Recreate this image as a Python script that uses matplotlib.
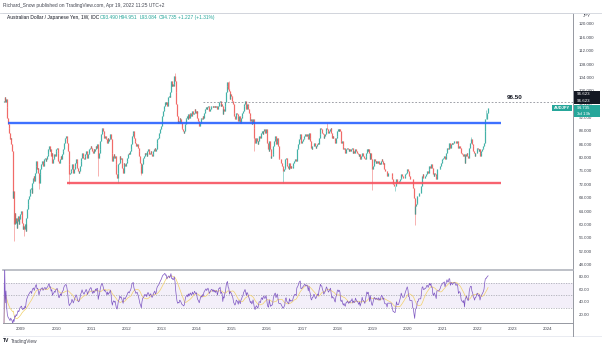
import numpy as np
import pandas as pd
import matplotlib
matplotlib.use("Agg")
import matplotlib.pyplot as plt
import matplotlib.dates as mdates
from matplotlib.patches import Rectangle
from matplotlib.lines import Line2D

# ---------------- data (weekly closes, AUD/JPY) ----------------
first_open = 96.5
closes_2008 = [97.0, 98.0, 96.5, 97.5, 95.0, 92.0, 90.0, 89.0, 87.5, 85.5, 86.0, 84.0, 82.0,
               68.0, 70.0, 60.0, 63.5, 60.5, 62.0, 59.0, 61.0, 62.5, 60.0, 61.5, 63.0, 63.5]
closes_2009 = [64.0, 60.5, 58.5, 59.5, 58.5, 60.0, 58.0, 62.0, 64.5, 66.0, 67.5, 68.5, 69.5,
               70.5, 71.0, 69.5, 72.5, 74.0, 74.5, 73.0, 75.5, 77.5, 79.0, 76.5, 77.0, 75.5,
               72.5, 75.0, 76.5, 78.0, 78.5, 79.0, 77.5, 78.5, 79.5, 80.0, 79.0, 79.5, 80.5,
               81.0, 82.5, 83.5, 82.0, 82.5, 80.5, 81.5, 78.5, 79.5, 80.0, 81.0, 80.5, 82.0]
closes_2010 = [82.5, 83.0, 81.5, 79.0, 78.5, 79.5, 80.5, 79.5, 81.0, 82.0, 82.5, 84.5, 85.5,
               86.0, 86.5, 86.0, 84.5, 82.0, 78.0, 75.0, 75.5, 76.0, 76.5, 78.0, 77.0, 75.5,
               76.5, 77.5, 78.5, 79.5, 79.0, 77.0, 76.0, 75.5, 76.0, 77.5, 79.0, 80.0, 81.5,
               80.5, 80.0, 79.5, 80.5, 81.0, 82.0, 81.5, 80.0, 81.0, 81.5, 82.5, 83.0, 83.5]
closes_2011 = [83.0, 82.0, 81.5, 82.5, 82.0, 82.5, 83.5, 83.0, 84.0, 84.0, 80.0, 81.5, 82.5,
               85.0, 87.0, 88.5, 89.0, 88.0, 87.0, 86.0, 86.5, 86.0, 85.5, 84.5, 86.0, 85.0,
               85.5, 86.0, 87.0, 85.5, 81.5, 79.0, 80.5, 81.0, 80.0, 80.5, 78.0, 75.0, 74.0,
               75.5, 78.0, 78.5, 80.5, 79.5, 80.0, 78.5, 77.0, 75.5, 78.5, 78.0, 77.5, 78.5]
closes_2012 = [79.0, 80.0, 81.0, 81.5, 81.0, 82.0, 82.5, 84.0, 86.5, 87.5, 88.0, 86.0, 85.0,
               84.5, 83.5, 84.0, 84.0, 83.0, 82.0, 80.5, 78.5, 77.5, 75.5, 78.0, 79.5, 80.0,
               80.5, 81.5, 81.0, 81.5, 80.5, 82.0, 82.5, 82.0, 81.0, 81.5, 82.0, 81.0, 80.5,
               81.0, 82.0, 82.5, 83.0, 82.0, 82.5, 84.5, 85.5, 86.0, 86.5, 87.5, 88.5, 89.5, 90.5]
closes_2013 = [92.5, 94.0, 94.5, 95.5, 96.5, 96.0, 96.5, 95.5, 97.0, 98.0, 98.5, 98.0, 99.5,
               103.0, 101.5, 102.0, 101.5, 102.0, 104.5, 103.0, 99.5, 96.0, 92.5, 90.5, 91.0,
               90.5, 92.0, 91.5, 90.5, 89.0, 88.5, 88.0, 87.5, 88.0, 90.0, 91.5, 92.0, 92.5,
               91.5, 93.0, 92.0, 93.0, 93.5, 92.5, 93.0, 94.0, 93.0, 93.5, 94.5, 94.0, 93.5, 94.0]
closes_2014 = [92.0, 91.0, 90.5, 89.5, 90.5, 91.5, 92.0, 91.5, 92.5, 92.0, 93.5, 94.0, 94.5,
               95.0, 94.5, 95.0, 95.5, 95.0, 94.0, 94.5, 95.0, 95.5, 95.5, 95.0, 95.5, 95.0,
               95.5, 95.0, 95.5, 95.5, 94.5, 95.5, 96.5, 96.5, 97.0, 95.5, 96.0, 95.5, 93.0,
               94.5, 94.0, 95.5, 96.5, 99.5, 101.5, 102.5, 100.5, 100.0, 97.5, 99.0, 98.5, 98.0]
closes_2015 = [97.0, 96.0, 93.5, 92.5, 91.5, 92.0, 93.5, 93.0, 92.5, 91.0, 92.5, 91.5, 90.5,
               92.0, 92.5, 93.5, 94.0, 95.5, 96.0, 97.0, 96.0, 94.5, 96.0, 95.5, 94.5, 93.5,
               92.5, 91.0, 91.5, 90.0, 90.5, 91.5, 89.0, 86.0, 84.5, 85.5, 86.0, 85.0, 84.0,
               85.0, 86.5, 86.5, 86.0, 87.5, 88.0, 87.0, 88.0, 88.5, 87.5, 87.5, 88.5, 87.5]
closes_2016 = [84.5, 82.5, 82.0, 85.0, 82.5, 80.0, 80.5, 80.5, 81.0, 83.5, 85.0, 86.0, 86.5,
               84.0, 85.0, 86.0, 83.5, 80.0, 79.5, 79.5, 79.5, 78.5, 77.5, 76.0, 76.0, 76.5,
               77.0, 79.5, 80.0, 78.0, 77.5, 77.0, 76.5, 78.5, 77.0, 77.5, 77.0, 77.0, 77.5,
               78.5, 79.0, 79.5, 79.5, 79.0, 82.5, 83.0, 84.0, 85.5, 86.5, 87.0, 84.5, 84.5]
closes_2017 = [85.0, 85.5, 86.0, 86.5, 87.0, 86.5, 86.5, 87.0, 86.5, 85.5, 87.5, 86.0, 85.0,
               83.0, 82.5, 83.5, 83.5, 84.5, 84.5, 83.5, 83.0, 83.5, 84.0, 84.5, 84.0, 86.0,
               87.0, 89.0, 88.5, 88.5, 87.5, 87.0, 86.0, 86.5, 87.0, 88.0, 89.0, 88.5, 88.0,
               87.5, 88.0, 88.5, 89.0, 87.5, 86.0, 86.5, 86.0, 86.0, 85.0, 84.5, 86.0, 86.5]
closes_2018 = [88.0, 88.5, 88.0, 88.5, 88.0, 85.0, 84.5, 85.0, 83.5, 82.5, 83.0, 82.0, 81.5,
               82.5, 82.5, 83.0, 82.5, 82.0, 82.5, 82.0, 82.5, 82.5, 83.0, 81.5, 82.0, 81.5,
               81.5, 82.5, 82.0, 81.5, 81.5, 81.0, 80.5, 81.0, 79.5, 80.0, 80.5, 81.5, 80.5,
               80.5, 80.0, 79.5, 80.5, 81.5, 82.5, 82.0, 82.5, 81.5, 79.5, 81.5, 79.5, 77.5, 76.5]
closes_2019 = [77.5, 78.5, 79.5, 79.0, 78.5, 79.0, 78.5, 78.5, 79.0, 78.0, 78.5, 78.0, 79.0,
               79.5, 79.0, 78.0, 78.5, 76.5, 76.0, 76.0, 76.0, 74.5, 75.5, 75.5, 75.5, 75.5,
               75.5, 75.5, 74.5, 73.5, 72.0, 72.0, 71.5, 71.5, 72.5, 73.5, 72.5, 72.5, 72.5,
               73.0, 73.5, 74.0, 75.0, 74.5, 74.0, 74.0, 74.0, 74.5, 75.0, 75.5, 76.0, 76.5]
closes_2020 = [76.0, 74.5, 74.5, 73.5, 73.5, 73.5, 73.5, 71.5, 71.0, 68.0, 63.0, 65.5, 66.0,
               66.5, 68.5, 68.5, 69.5, 69.5, 69.5, 69.5, 71.5, 74.5, 75.0, 74.0, 74.0, 74.5,
               74.5, 75.0, 76.0, 76.0, 75.5, 76.5, 77.5, 77.0, 78.0, 77.0, 77.0, 75.0, 74.5,
               75.5, 75.0, 74.5, 73.5, 76.5, 76.5, 76.5, 76.5, 77.0, 77.5, 78.5, 79.0, 79.5]
closes_2021 = [80.0, 80.0, 80.5, 79.5, 80.5, 81.5, 83.0, 82.5, 82.5, 84.5, 84.5, 83.0, 84.0,
               84.5, 84.0, 84.5, 85.0, 85.0, 85.0, 84.5, 84.5, 85.0, 84.5, 83.0, 83.5, 83.5,
               83.0, 81.5, 81.0, 81.0, 80.5, 81.0, 78.5, 80.5, 81.0, 81.5, 80.5, 80.0, 80.0,
               83.0, 84.5, 85.5, 85.5, 84.0, 83.5, 82.0, 81.5, 80.5, 81.5, 81.5, 82.5, 83.0]
closes_2022 = [82.5, 82.0, 82.5, 80.5, 81.5, 82.0, 82.5, 83.0, 83.5, 84.5, 88.0, 91.5, 91.5,
               93.0, 93.49, 94.735]

wick_dates = ["2008-10-20", "2009-02-02", "2009-07-06", "2010-05-17", "2011-03-14",
              "2011-10-03", "2012-05-28", "2013-05-20", "2014-12-01", "2015-08-24",
              "2016-06-20", "2017-09-18", "2018-12-31", "2019-08-26", "2020-03-16",
              "2021-10-18", "2022-03-28", "2022-04-18"]
wick_values = [55.0, 56.5, 70.5, 72.0, 74.5, 72.3, 74.8, 105.4, 102.8, 82.0,
               72.4, 90.3, 70.3, 70.0, 59.9, 86.3, 94.3, 94.951]

level_values = [90.45, 72.3]
level_starts = ["2008-08-18", "2010-04-20"]
level_end = "2022-08-29"
level_colors = ["#2962FF", "#F7525F"]

target_value = 96.623
target_start = "2014-03-07"
target_label = "96.50"

year_ticks = list(range(2009, 2025))
price_ticks = list(range(48, 121, 4))
rsi_ticks = [20, 40, 60, 80]

# ---------------- build series ----------------
closes = (closes_2008 + closes_2009 + closes_2010 + closes_2011 + closes_2012 + closes_2013 +
          closes_2014 + closes_2015 + closes_2016 + closes_2017 + closes_2018 + closes_2019 +
          closes_2020 + closes_2021 + closes_2022)
closes = np.array(closes, dtype=float)
dates = pd.date_range(end="2022-04-18", periods=len(closes), freq="W-MON")
opens = np.concatenate([[first_open], closes[:-1]])
highs = np.maximum(opens, closes)
lows = np.minimum(opens, closes)
idx = dates.get_indexer(pd.to_datetime(wick_dates), method="nearest")
for i, v in zip(idx, wick_values):
    if v > highs[i]:
        highs[i] = v
    else:
        lows[i] = min(lows[i], v)

# RSI 14 (Wilder) + RSI-based MA 14
s = pd.Series(closes)
delta = s.diff().fillna(0)
gain = delta.clip(lower=0).ewm(alpha=1 / 14, adjust=False).mean()
loss = (-delta.clip(upper=0)).ewm(alpha=1 / 14, adjust=False).mean()
rsi = 100 - 100 / (1 + gain / loss.replace(0, 1e-9))
rsi_ma = rsi.rolling(14, min_periods=1).mean()

# ---------------- figure ----------------
W, H = 602, 347
fig = plt.figure(figsize=(W / 100, H / 100), dpi=100)
fig.patch.set_facecolor("white")
plt.rcParams["font.family"] = ["Liberation Sans", "DejaVu Sans"]


def fx(x):
    return x / W


def fy(y):
    return 1 - y / H


def ft(x, y, s, **kw):
    kw.setdefault("fontsize", 3.4)
    kw.setdefault("va", "center")
    return fig.text(fx(x), fy(y), s, **kw)


L, R = 3, 573
ax = fig.add_axes([fx(L), fy(270), (R - L) / W, (270 - 13) / H])
axr = fig.add_axes([fx(L), fy(323), (R - L) / W, (323 - 270) / H], sharex=ax)

xmin = mdates.date2num(pd.Timestamp("2008-06-27"))
xmax = mdates.date2num(pd.Timestamp("2024-09-17"))
ax.set_xlim(xmin, xmax)
ax.set_ylim(46.35, 123.29)

x = mdates.date2num(dates)
up = closes >= opens
col = np.where(up, "#26A69A", "#EF5350")
ax.vlines(x, lows, highs, colors=col, lw=0.45, alpha=0.7, zorder=2)
ax.vlines(x, np.minimum(opens, closes), np.maximum(opens, closes), colors=col, lw=0.9,
          alpha=0.75, zorder=3)

for v, st, c in zip(level_values, level_starts, level_colors):
    ax.hlines(v, mdates.date2num(pd.Timestamp(st)), mdates.date2num(pd.Timestamp(level_end)),
              colors=c, lw=1.7, alpha=0.9, zorder=5)

ax.hlines(target_value, mdates.date2num(pd.Timestamp(target_start)), xmax, colors="#787B86",
          lw=0.5, linestyles=(0, (2.5, 2.5)), zorder=4)
ax.text(mdates.date2num(pd.Timestamp("2023-01-20")), 97.9, target_label, fontsize=4.5,
        fontweight="bold", color="#131722", ha="center", va="center", zorder=6)

ax.yaxis.tick_right()
ax.set_yticks(price_ticks)
ax.set_yticklabels([f"{v:.3f}" for v in price_ticks])
ax.tick_params(axis="y", length=0, pad=4, labelsize=3.2, labelcolor="#434651")
ax.tick_params(axis="x", length=0, labelbottom=False)
for yl in ax.get_yticklabels():
    yl.set_ha("left")

for a in (ax, axr):
    for sp in a.spines.values():
        sp.set_color("#D1D4DC")
        sp.set_linewidth(0.6)
    a.spines["right"].set_color("#9598A1")
    a.spines["right"].set_linewidth(0.7)
    a.spines["left"].set_visible(False)
ax.spines["top"].set_color("#D1D4DC")
axr.spines["top"].set_color("#B2B5BE")
axr.spines["top"].set_linewidth(1.2)
axr.spines["bottom"].set_color("#9598A1")
axr.spines["bottom"].set_linewidth(0.7)

# RSI pane
axr.set_ylim(6.2, 90.6)
axr.axhspan(30, 70, color="#7E57C2", alpha=0.09, lw=0, zorder=1)
for lv in (70, 50, 30):
    axr.axhline(lv, color="#9598A1", lw=0.45, ls=(0, (2, 2)), zorder=2)
axr.plot(x, rsi_ma.values, color="#F2D16B", lw=0.5, zorder=3)
axr.plot(x, rsi.values, color="#7E57C2", lw=0.5, zorder=4)
axr.yaxis.tick_right()
axr.set_yticks(rsi_ticks)
axr.set_yticklabels([f"{v:.2f}" for v in rsi_ticks])
axr.tick_params(axis="y", length=0, pad=4, labelsize=3.2, labelcolor="#434651")
for yl in axr.get_yticklabels():
    yl.set_ha("left")
axr.set_xticks([mdates.date2num(pd.Timestamp(f"{yr}-01-01")) for yr in year_ticks])
axr.set_xticklabels([str(yr) for yr in year_ticks])
axr.tick_params(axis="x", length=0, pad=3.2, labelsize=3.2, labelcolor="#434651")
axr.set_xlim(xmin, xmax)

# frame lines
fig.add_artist(Line2D([fx(0), fx(602)], [fy(13), fy(13)], color="#D1D4DC", lw=0.6))
fig.add_artist(Line2D([fx(L), fx(602)], [fy(335.5), fy(335.5)], color="#E0E3EB", lw=0.5))
fig.add_artist(Line2D([fx(R), fx(R)], [fy(323), fy(335.5)], color="#9598A1", lw=0.7))

# header texts
ft(3, 5, "Richard_Snow published on TradingView.com, Apr 19, 2022 11:25 UTC+2", color="#434651",
   fontsize=3.5)
ft(7, 17.5, "Australian Dollar / Japanese Yen, 1W, IDC", color="#131722", fontsize=3.5)
ohlc = [(100, "O93.490"), (119, "H94.951"), (140, "L93.084"), (158.5, "C94.735"),
        (178, "+1.227 (+1.31%)")]
for px, t in ohlc:
    ft(px, 17.5, t, color="#26A69A", fontsize=3.5)
ft(583, 16, "JPY", color="#434651", fontsize=3.2)

# price labels on axis
def box(x0, y0, x1, y1, c):
    fig.add_artist(Rectangle((fx(x0), fy(y1)), (x1 - x0) / W, (y1 - y0) / H,
                             transform=fig.transFigure, facecolor=c, edgecolor="none",
                             zorder=10))


box(574, 90.6, 600, 97.6, "#131722")
box(574, 97.6, 600, 104.4, "#131722")
box(574, 104.6, 600, 117.0, "#26A69A")
box(552, 105.2, 571.5, 111.2, "#26A69A")
for yy, t in [(94.2, "96.623"), (101.0, "96.623"), (107.8, "94.735"), (113.8, "3d 13h")]:
    t_ = ft(577, yy, t, color="white", fontsize=3.2)
    t_.set_zorder(11)
ft(561.8, 108.2, "AUDJPY", color="white", fontsize=2.9, ha="center", fontweight="bold").set_zorder(11)

# footer
ft(3, 341, "TV", color="#131722", fontsize=3.6, fontweight="bold")
ft(11, 341, "TradingView", color="#434651", fontsize=3.4)

fig.savefig("out.png", dpi=100, facecolor="white")
